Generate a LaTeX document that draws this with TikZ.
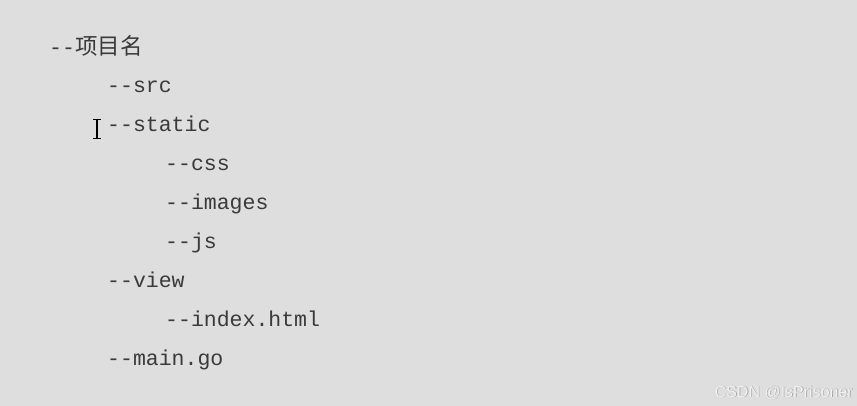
\documentclass[tikz,border=0pt]{standalone}
\usepackage{fontspec}
\setmonofont{Liberation Mono}
\newfontfamily\cjk{Noto Sans CJK SC}
\newfontfamily\wmfont{Liberation Sans}
\definecolor{bgc}{HTML}{DEDEDE}
\definecolor{txt}{HTML}{3A3A3A}
\definecolor{wm}{HTML}{F2F2F2}
\begin{document}
\begin{tikzpicture}[x=1pt,y=-1pt,
  entry/.style={anchor=base west,inner sep=0pt,text=txt,font=\ttfamily\fontsize{21.5}{24}\selectfont},
  wmstyle/.style={anchor=base east,inner sep=0pt,font=\wmfont\fontsize{16}{18}\selectfont}]
\fill[bgc] (0,0) rectangle (857,406);
\useasboundingbox (0,0) rectangle (857,406);
\node[entry] (root) at (49,55) {--{\cjk\fontsize{22.5}{24}\selectfont 项目名}};
\node[entry] (src) at (107,93) {--src};
\node[entry] (static) at (107,132) {--static};
\node[entry] (css) at (165,171) {--css};
\node[entry] (images) at (165,210) {--images};
\node[entry] (js) at (165,249) {--js};
\node[entry] (view) at (107,287.5) {--view};
\node[entry] (index) at (165,326.5) {--index.html};
\node[entry] (main) at (107,365.5) {--main.go};
% I-beam cursor
\draw[black,line width=1.4pt] (97,119.5) -- (97,138.5);
\draw[black,line width=1.2pt] (93,119.5) -- (101,119.5) (93,138.5) -- (101,138.5);
% watermark
\node[wmstyle,text=black!40] (wmsh) at (853.7,397.7) {CSDN @IsPrisoner};
\node[wmstyle,text=wm] (wmark) at (853,397) {CSDN @IsPrisoner};
\end{tikzpicture}
\end{document}
